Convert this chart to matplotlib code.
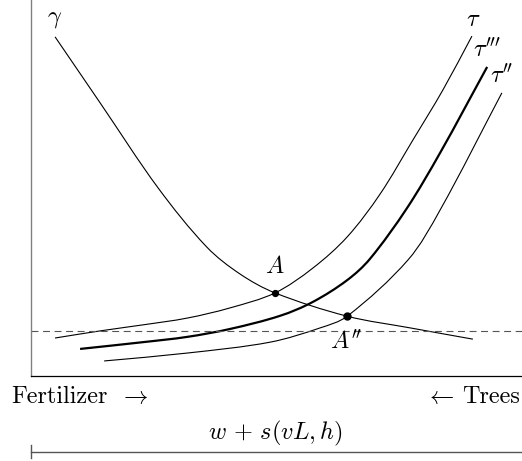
import matplotlib
matplotlib.use("Agg")
import matplotlib.pyplot as plt
from matplotlib.path import Path
from matplotlib.patches import PathPatch
import numpy as np

plt.rcParams["mathtext.fontset"] = "cm"
plt.rcParams["font.family"] = "serif"
plt.rcParams["font.serif"] = ["cmr10", "DejaVu Serif"]
plt.rcParams["axes.formatter.use_mathtext"] = True
plt.rcParams["lines.scale_dashes"] = False

# curves on a 0..100 schematic scale
gamma_x = [4.9, 14.1, 25.9, 35.8, 42.6, 49.7, 64.4, 77.2, 90.0]
gamma_y = [90.2, 72.6, 50.0, 34.3, 27.1, 22.1, 15.9, 12.8, 9.8]

tau_x = [4.9, 14.1, 22.8, 31.8, 40.5, 49.7, 57.4, 64.4, 71.1, 77.8, 83.9, 89.8]
tau_y = [10.1, 12.0, 13.6, 15.4, 18.1, 22.1, 28.7, 37.0, 48.4, 62.8, 76.1, 90.4]

tau3_x = [10.0, 22.8, 31.8, 40.5, 50.7, 57.4, 64.4, 69.0, 76.6, 83.3, 92.9]
tau3_y = [7.2, 9.0, 10.4, 12.5, 16.0, 19.7, 25.5, 31.1, 44.7, 59.3, 82.2]

tau2_x = [14.9, 31.8, 48.7, 58.9, 64.4, 76.8, 83.3, 95.9]
tau2_y = [4.0, 6.1, 9.0, 12.8, 15.9, 30.9, 44.1, 75.3]

floor_y = 12.0
point_A = (49.7, 22.1)
point_A2 = (64.4, 15.9)


def smooth_curve(ax, xs, ys, lw, sx=4.91, sy=3.76):
    # smooth bezier path through the points; handles are 1/3 of each
    # segment length along the chord direction of the neighbours
    p = np.column_stack([np.asarray(xs) * sx, np.asarray(ys) * sy])
    n = len(p)
    d = np.zeros_like(p)
    for i in range(n):
        a = p[max(i - 1, 0)]
        b = p[min(i + 1, n - 1)]
        v = b - a
        d[i] = v / np.hypot(*v)
    verts = [p[0]]
    codes = [Path.MOVETO]
    for i in range(n - 1):
        L = np.hypot(*(p[i + 1] - p[i])) / 3
        verts += [p[i] + d[i] * L, p[i + 1] - d[i + 1] * L, p[i + 1]]
        codes += [Path.CURVE4] * 3
    verts = np.array(verts) / [sx, sy]
    ax.add_patch(PathPatch(Path(verts, codes), fill=False, edgecolor="black",
                           linewidth=lw, capstyle="butt"))


fs = 17.5
fig = plt.figure(figsize=(5.22, 4.61), dpi=100)
ax = fig.add_axes([31/522, 85/461, 491/522, 376/461])
ax.set_xlim(0, 100)
ax.set_ylim(0, 100)
ax.set_xticks([])
ax.set_yticks([])
ax.spines["top"].set_visible(False)
ax.spines["right"].set_visible(False)
ax.spines["left"].set_color("#808080")
ax.spines["left"].set_linewidth(1.0)
ax.spines["bottom"].set_color("black")
ax.spines["bottom"].set_linewidth(0.9)

smooth_curve(ax, gamma_x, gamma_y, 0.8)
smooth_curve(ax, tau_x, tau_y, 0.8)
smooth_curve(ax, tau3_x, tau3_y, 1.6)
smooth_curve(ax, tau2_x, tau2_y, 0.8)
ax.axhline(floor_y, color="#555555", linewidth=0.8, dashes=(5, 3.3))

ax.plot(*point_A, "o", color="black", markersize=4.2)
ax.plot(*point_A2, "o", color="black", markersize=5)

ax.text(4.9, 95.0, r"$\gamma$", fontsize=fs, ha="center", va="center")
ax.text(90.0, 94.7, r"$\tau$", fontsize=fs, ha="center", va="center")
ax.text(92.9, 86.7, r"$\tau'''$", fontsize=fs, ha="center", va="center")
ax.text(95.9, 79.8, r"$\tau''$", fontsize=fs, ha="center", va="center")
ax.text(49.7, 28.9, r"$A$", fontsize=fs, ha="center", va="center")
ax.text(64.2, 9.0, r"$A''$", fontsize=fs, ha="center", va="center")

y_lab = 1 - 397/461
fig.text(11/522, y_lab, "Fertilizer", fontsize=fs, ha="left", va="center")
fig.text(134/522, y_lab, r"$\rightarrow$", fontsize=fs, ha="center", va="center")
fig.text(440/522, y_lab, r"$\leftarrow$", fontsize=fs, ha="center", va="center")
fig.text(520/522, y_lab, "Trees", fontsize=fs, ha="right", va="center")
fig.text(276/522, 1 - 433/461, r"$w\,+\,s(vL,h)$", fontsize=fs, ha="center", va="center")

# bracket line under the axis
fig.add_artist(plt.Line2D([31/522, 1.0], [1 - 452/461, 1 - 452/461], color="#555555", linewidth=1.0))
fig.add_artist(plt.Line2D([31/522, 31/522], [1 - 445/461, 1 - 458/461], color="#555555", linewidth=1.0))

fig.savefig("out.png", dpi=100)
